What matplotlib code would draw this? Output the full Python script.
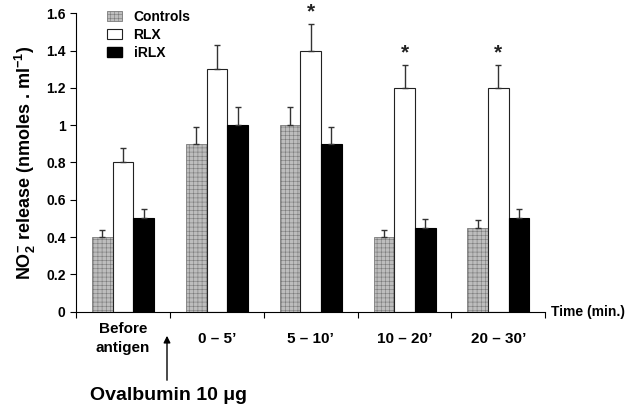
import numpy as np
import matplotlib
matplotlib.use("Agg")
import matplotlib.pyplot as plt
from matplotlib.patches import Patch
from matplotlib.transforms import blended_transform_factory

plt.rcParams['font.family'] = ['Liberation Sans', 'DejaVu Sans']
plt.rcParams['font.weight'] = 'bold'
plt.rcParams['axes.labelweight'] = 'bold'
plt.rcParams['mathtext.fontset'] = 'custom'
plt.rcParams['mathtext.rm'] = 'Liberation Sans:bold'
plt.rcParams['mathtext.bf'] = 'Liberation Sans:bold'
plt.rcParams['hatch.linewidth'] = 0.4

# data
categories = ['Before\nantigen', "0 \u2013 5\u2019", "5 \u2013 10\u2019", "10 \u2013 20\u2019", "20 \u2013 30\u2019"]
controls = [0.40, 0.90, 1.00, 0.40, 0.45]
controls_err = [0.04, 0.09, 0.10, 0.04, 0.04]
rlx = [0.80, 1.30, 1.40, 1.20, 1.20]
rlx_err = [0.08, 0.13, 0.14, 0.12, 0.12]
irlx = [0.50, 1.00, 0.90, 0.45, 0.50]
irlx_err = [0.05, 0.10, 0.09, 0.045, 0.05]
signif = [False, False, True, True, True]   # asterisk over RLX
yticks = [0, 0.2, 0.4, 0.6, 0.8, 1.0, 1.2, 1.4, 1.6]
ytick_labels = ['0', '0.2', '0.4', '0.6', '0.8', '1', '1.2', '1.4', '1.6']

fig = plt.figure(figsize=(6.4, 4.15), dpi=100)
ax = fig.add_axes([0.119, 0.249, 0.733, 0.719])

x = np.arange(len(categories))
w = 0.22
err_kw = dict(ecolor='#333333', elinewidth=1.0, capsize=2.5, capthick=1.0)

def up(err):
    return [np.zeros(len(err)), err]

ax.bar(x - w, controls, w, color='#bdbdbd', edgecolor='#7a7a7a', hatch='++++',
       linewidth=0.6, yerr=up(controls_err), error_kw=err_kw, zorder=2)
ax.bar(x, rlx, w, color='white', edgecolor='#222222', linewidth=0.8,
       yerr=up(rlx_err), error_kw=err_kw, zorder=2)
ax.bar(x + w, irlx, w, color='black', edgecolor='black', linewidth=0.8,
       yerr=up(irlx_err), error_kw=err_kw, zorder=2)

for i, s in enumerate(signif):
    if s:
        ax.text(x[i], rlx[i] + rlx_err[i] + 0.015, '*', ha='center', va='bottom',
                fontsize=15, color='#222222')

ax.set_xlim(-0.5, len(categories) - 0.5)
ax.set_ylim(0, 1.6)
ax.set_yticks(yticks)
ax.set_yticklabels(ytick_labels)
ax.set_xticks(np.arange(len(categories) + 1) - 0.5)
ax.set_xticklabels([])
ax.tick_params(axis='both', direction='out', length=4, width=0.8, labelsize=10)
for sp in ['top', 'right']:
    ax.spines[sp].set_visible(False)
for sp in ['left', 'bottom']:
    ax.spines[sp].set_linewidth(0.8)

tr = blended_transform_factory(ax.transData, ax.transAxes)
for i, c in enumerate(categories):
    ax.text(x[i], -0.09, c, transform=tr, ha='center', va='center', fontsize=11,
            linespacing=1.45)

ax.text(1.012, 0.0, 'Time (min.)', transform=ax.transAxes, ha='left', va='center',
        fontsize=10)

ax.set_ylabel('NO$_{2}^{-}$ release (nmoles . ml$^{-1}$)', fontsize=13, labelpad=6)

ax.annotate('', xy=(167 / 640, 1 - 333 / 415), xytext=(167 / 640, 1 - 383 / 415),
            xycoords='figure fraction', textcoords='figure fraction',
            arrowprops=dict(arrowstyle='-|>', color='black', lw=1.0, mutation_scale=10))
fig.text(169 / 640, 1 - 395 / 415, 'Ovalbumin 10 \u03bcg', ha='center', va='center',
         fontsize=14)

handles = [Patch(facecolor='#bdbdbd', edgecolor='#7a7a7a', hatch='++++', linewidth=0.6),
           Patch(facecolor='white', edgecolor='#222222', linewidth=0.8),
           Patch(facecolor='black', edgecolor='black')]
ax.legend(handles, ['Controls', 'RLX', 'iRLX'], loc='upper left',
          bbox_to_anchor=(0.066, 1.012), frameon=False, fontsize=10,
          handlelength=1.1, handleheight=0.75, handletextpad=0.8,
          labelspacing=0.3, borderpad=0, borderaxespad=0)

fig.savefig('out.png', dpi=100)
